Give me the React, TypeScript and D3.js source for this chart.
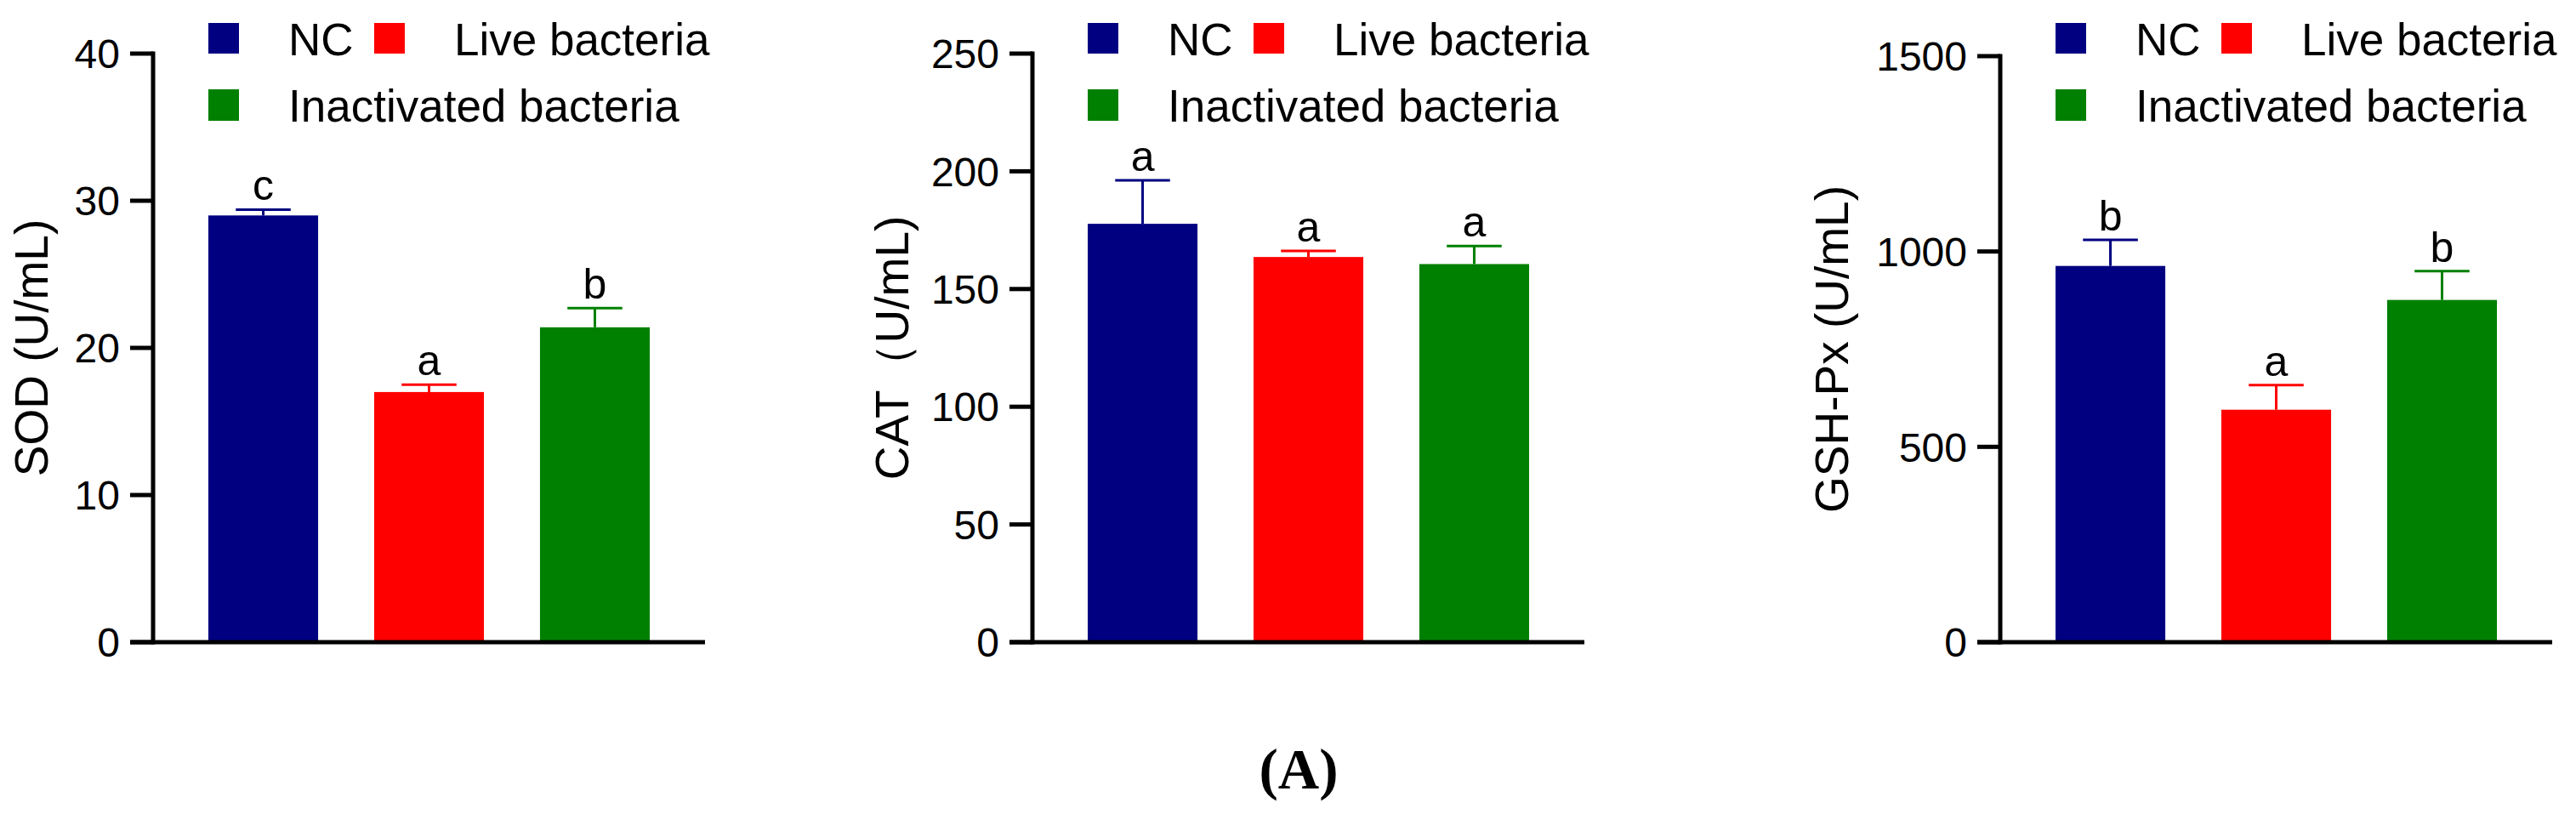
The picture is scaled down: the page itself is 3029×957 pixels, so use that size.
import React from 'react'
import * as d3 from 'd3'

// groups + colours shared by all three panels
const groups = ['NC', 'Live bacteria', 'Inactivated bacteria']
const groupColors = ['#000080', '#FF0000', '#008000']

// SOD
const sodMean = [29.0, 17.0, 21.4]
const sodErr = [0.4, 0.5, 1.3]
const sodLetters = ['c', 'a', 'b']
const sodTicks = [0, 10, 20, 30, 40]

// CAT
const catMean = [177.7, 163.6, 160.6]
const catErr = [18.5, 2.6, 7.7]
const catLetters = ['a', 'a', 'a']
const catTicks = [0, 50, 100, 150, 200, 250]

// GSH-Px
const gshMean = [963, 595, 876]
const gshErr = [67, 63, 74]
const gshLetters = ['b', 'a', 'b']
const gshTicks = [0, 500, 1000, 1500]

type Panel = {
    title: string
    mean: number[]
    err: number[]
    letters: string[]
    ticks: number[]
    axisX: number
    titleX: number
    top: number
}

const panels: Panel[] = [
    {title: 'SOD (U/mL)', mean: sodMean, err: sodErr, letters: sodLetters, ticks: sodTicks, axisX: 180, titleX: 56, top: 63},
    {title: 'CAT（U/mL)', mean: catMean, err: catErr, letters: catLetters, ticks: catTicks, axisX: 1214, titleX: 1068, top: 63},
    {title: 'GSH-Px (U/mL)', mean: gshMean, err: gshErr, letters: gshLetters, ticks: gshTicks, axisX: 2352, titleX: 2173, top: 66},
]

const W = 3029
const H = 957
const baseY = 755
const font = '"Liberation Sans", Arial, sans-serif'

const BarPanel: React.FC<{p: Panel}> = ({p}) => {
    const yMax = p.ticks[p.ticks.length - 1]
    const y = d3.scaleLinear().domain([0, yMax]).range([baseY, p.top])
    const x = d3.scaleBand<string>()
        .domain(groups)
        .range([p.axisX + 65, p.axisX + 65 + 519])
        .paddingInner(0.338)
        .paddingOuter(0)
    const bw = x.bandwidth()
    const tickLen = 27
    const axisEnd = p.axisX + 65 + 519 + 65
    const midY = (baseY + p.top) / 2

    return (
        <g>
            {/* bars */}
            {groups.map((g, i) => (
                <rect key={g} x={x(g)} y={y(p.mean[i])} width={bw} height={baseY - y(p.mean[i])}
                      fill={groupColors[i]}/>
            ))}
            {/* error bars (upper only) */}
            {groups.map((g, i) => {
                const cx = x(g)! + bw / 2
                const yt = y(p.mean[i] + p.err[i])
                return (
                    <g key={g} stroke={groupColors[i]} strokeWidth={3}>
                        <line x1={cx} x2={cx} y1={y(p.mean[i])} y2={yt}/>
                        <line x1={cx - bw / 4} x2={cx + bw / 4} y1={yt} y2={yt}/>
                    </g>
                )
            })}
            {/* significance letters */}
            {groups.map((g, i) => (
                <text key={g} x={x(g)! + bw / 2} y={y(p.mean[i] + p.err[i]) - 11} textAnchor="middle"
                      fontFamily={font} fontSize={50} fill="#000">{p.letters[i]}</text>
            ))}
            {/* y axis */}
            <line x1={p.axisX} x2={p.axisX} y1={p.top - 2.5} y2={baseY + 2.5} stroke="#000" strokeWidth={5}/>
            {p.ticks.map(t => (
                <g key={t}>
                    <line x1={p.axisX - tickLen} x2={p.axisX} y1={y(t)} y2={y(t)} stroke="#000" strokeWidth={5}/>
                    <text x={p.axisX - tickLen - 12} y={y(t)} dy="0.36em" textAnchor="end"
                          fontFamily={font} fontSize={48} fill="#000">{t}</text>
                </g>
            ))}
            {/* x axis */}
            <line x1={p.axisX - tickLen} x2={axisEnd} y1={baseY} y2={baseY} stroke="#000" strokeWidth={5}/>
            {/* y title */}
            <text transform={`translate(${p.titleX},${midY}) rotate(-90)`} textAnchor="middle"
                  fontFamily={font} fontSize={55} fill="#000">{p.title}</text>
            {/* legend */}
            <rect x={x(groups[0])} y={27} width={36} height={36} fill={groupColors[0]}/>
            <text x={x(groups[0])! + 94} y={65} fontFamily={font} fontSize={53} fill="#000">{groups[0]}</text>
            <rect x={x(groups[1])} y={27} width={36} height={36} fill={groupColors[1]}/>
            <text x={x(groups[1])! + 94} y={65} fontFamily={font} fontSize={53} fill="#000">{groups[1]}</text>
            <rect x={x(groups[0])} y={105} width={36} height={37} fill={groupColors[2]}/>
            <text x={x(groups[0])! + 94} y={143} fontFamily={font} fontSize={53} fill="#000">{groups[2]}</text>
        </g>
    )
}

export default function App() {
    return (
        <svg width={W} height={H} viewBox={`0 0 ${W} ${H}`}
             style={{position: 'absolute', left: 0, top: 0, background: '#fff'}}>
            <rect width={W} height={H} fill="#fff"/>
            {panels.map(p => <BarPanel key={p.title} p={p}/>)}
            <text x={1527} y={927} textAnchor="middle" fontFamily='"Liberation Serif", "Times New Roman", serif'
                  fontWeight="bold" fontSize={67} fill="#000">(A)</text>
        </svg>
    )
}
